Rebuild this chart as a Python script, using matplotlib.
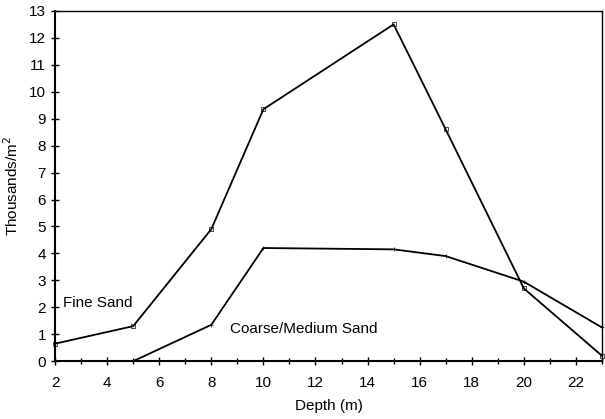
import matplotlib.pyplot as plt
from matplotlib.ticker import MultipleLocator

plt.rcParams['font.family'] = ['Liberation Sans', 'DejaVu Sans']

depth_fine = [2, 5, 8, 10, 15, 17, 20, 23]
fine_sand = [0.65, 1.3, 4.9, 9.35, 12.5, 8.6, 2.7, 0.2]
depth_coarse = [5, 8, 10, 15, 17, 20, 23]
coarse_sand = [0.0, 1.35, 4.2, 4.15, 3.9, 2.95, 1.25]

fig = plt.figure(figsize=(6.05, 4.19), dpi=100)
ax = fig.add_axes([0.091, 0.138, 0.904, 0.836])

ax.plot(depth_fine, fine_sand, color='black', lw=1.3, marker='s', ms=2.5,
        mfc='none', mew=0.5, clip_on=False)
ax.plot(depth_coarse, coarse_sand, color='black', lw=1.3, marker='+', ms=3,
        mew=0.5, clip_on=False)

ax.text(2.3, 2.15, 'Fine Sand', fontsize=11, va='center', ha='left')
ax.text(8.7, 1.18, 'Coarse/Medium Sand', fontsize=11, va='center', ha='left')

ax.set_xlim(2, 23)
ax.set_ylim(0, 13)
ax.xaxis.set_major_locator(MultipleLocator(2))
ax.xaxis.set_minor_locator(MultipleLocator(1))
ax.yaxis.set_major_locator(MultipleLocator(1))
ax.tick_params(axis='both', which='major', direction='inout', length=6,
               width=1, labelsize=11)
ax.tick_params(axis='x', which='major', pad=8)
ax.tick_params(axis='x', which='minor', direction='inout', length=4, width=1)

ax.set_xlabel('Depth (m)', fontsize=11, labelpad=6)
ax.set_ylabel('Thousands/m$^2$', fontsize=11, labelpad=6)

for side in ['left', 'bottom']:
    ax.spines[side].set_linewidth(1.5)
for side in ['top', 'right']:
    ax.spines[side].set_linewidth(1.0)

fig.savefig('out.png', dpi=100)
